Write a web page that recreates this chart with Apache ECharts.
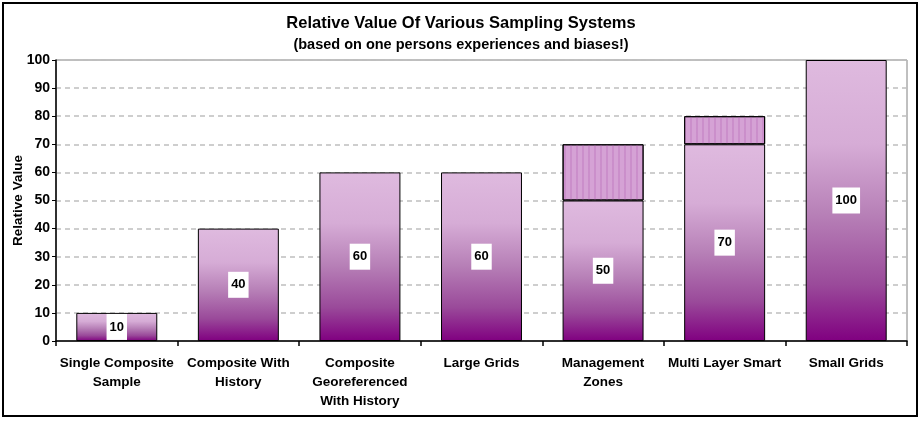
<!DOCTYPE html>
<html>
<head>
<meta charset="utf-8">
<script src="https://cdn.jsdelivr.net/npm/echarts@6/dist/echarts.min.js"></script>
<style>
html,body{margin:0;padding:0;background:#fff;}
#chart{width:922px;height:421px;}
</style>
</head>
<body>
<div id="chart"></div>
<script>
var categories = ["Single Composite\nSample", "Composite With\nHistory", "Composite\nGeoreferenced\nWith History", "Large Grids", "Management\nZones", "Multi Layer Smart", "Small Grids"];
var baseValues = [10, 40, 60, 60, 50, 70, 100];
var extraValues = ['-', '-', '-', '-', 20, 10, '-'];
var yTicks = [0, 10, 20, 30, 40, 50, 60, 70, 80, 90, 100];

var chart = echarts.init(document.getElementById('chart'));
var font = 'Arial, "Liberation Sans", sans-serif';
chart.setOption({
  animation: false,
  backgroundColor: '#fff',
  title: {
    text: 'Relative Value Of Various Sampling Systems',
    subtext: '(based on one persons experiences and biases!)',
    left: 'center',
    top: 10,
    itemGap: 5,
    textStyle: {fontFamily: font, fontWeight: 'bold', fontSize: 16.5, color: '#000'},
    subtextStyle: {fontFamily: font, fontWeight: 'bold', fontSize: 14.5, color: '#000'}
  },
  graphic: [{
    type: 'rect', shape: {x: 3, y: 3, width: 914, height: 413},
    style: {fill: 'none', stroke: '#000', lineWidth: 2}, silent: true, z: 100
  }],
  grid: {left: 56, right: 15, top: 60, bottom: 80, outerBoundsMode: 'none', containLabel: false, show: true, borderColor: '#808080', borderWidth: 1},
  xAxis: {
    type: 'category',
    data: categories,
    axisLine: {lineStyle: {color: '#000', width: 1.5}},
    axisTick: {show: true, length: 5, lineStyle: {color: '#000', width: 1.5}},
    axisLabel: {fontFamily: font, fontWeight: 'bold', fontSize: 13.5, color: '#000', lineHeight: 19, margin: 13, interval: 0}
  },
  yAxis: {
    type: 'value',
    min: yTicks[0], max: yTicks[yTicks.length - 1], interval: 10,
    name: 'Relative Value',
    nameLocation: 'middle',
    nameGap: 31,
    nameMoveOverlap: false,
    nameTextStyle: {fontFamily: font, fontWeight: 'bold', fontSize: 13.5, color: '#000'},
    axisLine: {show: true, lineStyle: {color: '#000', width: 1.5}},
    axisTick: {show: true, length: 4, lineStyle: {color: '#000'}},
    axisLabel: {fontFamily: font, fontWeight: 'bold', fontSize: 14, color: '#000', margin: 6},
    splitLine: {lineStyle: {color: '#bfbfbf', type: [5, 4], width: 1.5}}
  },
  series: [{
    type: 'bar',
    stack: 'a',
    data: baseValues,
    barWidth: '66.6%',
    itemStyle: {
      borderColor: '#000', borderWidth: 1,
      color: new echarts.graphic.LinearGradient(0, 0, 0, 1, [
        {offset: 0, color: '#dfbadf'},
        {offset: 0.3, color: '#d6acd6'},
        {offset: 0.55, color: '#b780b7'},
        {offset: 0.8, color: '#9a4a9a'},
        {offset: 1, color: '#800080'}
      ])
    },
    label: {
      show: true, position: 'inside',
      backgroundColor: '#fff', padding: [7, 3, 6, 3],
      fontFamily: font, fontWeight: 'bold', fontSize: 13, color: '#000'
    }
  }, {
    type: 'bar',
    stack: 'a',
    data: extraValues,
    barWidth: '66.6%',
    itemStyle: {
      borderColor: '#000', borderWidth: 1,
      color: '#d5a2d5',
      decal: {symbol: 'rect', symbolSize: 1, dashArrayX: [1.5, 4], dashArrayY: [4, 0], color: 'rgba(190,120,190,0.45)'}
    }
  }]
});
</script>
</body>
</html>
